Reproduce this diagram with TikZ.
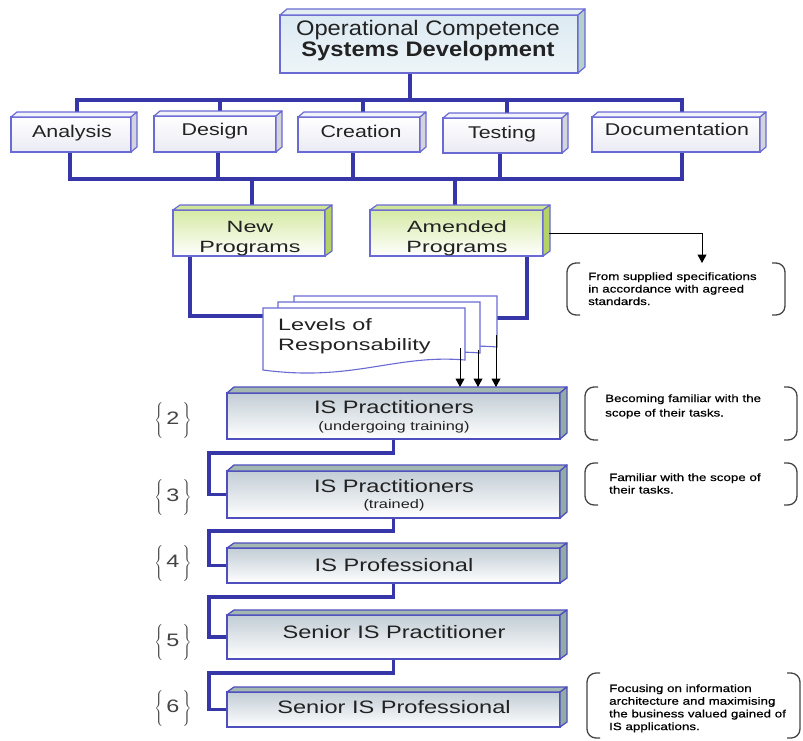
\documentclass[tikz,border=0pt]{standalone}
\usepackage{fontspec}
\setmainfont{Liberation Sans}
\newfontfamily\notefont[FakeBold=0.5]{Liberation Sans}
\usepackage{graphicx}
\usetikzlibrary{arrows.meta}
\pgfdeclarelayer{bg}
\pgfsetlayers{bg,main}
\definecolor{conncol}{HTML}{3636A8}
\definecolor{edgecol}{HTML}{6A6AD4}
\definecolor{lvledge}{HTML}{4E4EBE}
\definecolor{txtcol}{HTML}{222222}
\definecolor{topfill}{HTML}{DCEAF2}
\definecolor{topsidec}{HTML}{B6D0CE}
\definecolor{toptopc}{HTML}{E2EEF2}
\definecolor{tierbot}{HTML}{EAEAF4}
\definecolor{tiertopc}{HTML}{F2F2FA}
\definecolor{tiersidec}{HTML}{D4D4DE}
\definecolor{pgmtop}{HTML}{D6EAA4}
\definecolor{pgmside}{HTML}{B4D268}
\definecolor{lvltopc}{HTML}{C2CDD5}
\definecolor{lvlface}{HTML}{92ACA2}
\definecolor{brkcol}{HTML}{444444}
\newcommand\stx[2][1.3]{\scalebox{#1}[1]{#2}}
\newcommand\boxfaces[5]{%
  \path[#4] (#1.north west) -- ([shift={(#2,-#3)}]#1.north west) -- ([shift={(#2,-#3)}]#1.north east) -- (#1.north east) -- cycle;
  \path[#5] (#1.north east) -- ([shift={(#2,-#3)}]#1.north east) -- ([shift={(#2,-#3)}]#1.south east) -- (#1.south east) -- cycle;}
\newcommand\docshape[4]{%
  \path[docst] (#1,#2) -- (#3,#2) -- (#3,#4) .. controls (#3-70,#4-6) and (#1+90,#4+22) .. (#1,#4+10) -- cycle;}
\newcommand\brackets[1]{%
  \draw[brkline] ([xshift=13pt]#1.north west) -- (#1.north west) -- (#1.south west) -- ([xshift=13pt]#1.south west);
  \draw[brkline] ([xshift=-13pt]#1.north east) -- (#1.north east) -- (#1.south east) -- ([xshift=-13pt]#1.south east);}
\newcommand\brnum[1]{$\left\{\vcenter{\hbox{\rule{0pt}{36pt}}}\right.$\hspace{2pt}\stx[1.3]{#1}\hspace{2pt}$\left.\vcenter{\hbox{\rule{0pt}{36pt}}}\right\}$}
\begin{document}
\begin{tikzpicture}[x=1pt,y=-1pt,
  conn/.style={line width=3.6pt, draw=conncol},
  arr/.style={draw=black, line width=1pt, -{Triangle[length=8.5pt,width=9pt]}},
  boxbase/.style={rectangle, inner sep=0pt, outer sep=0pt},
  txt/.style={inner sep=0pt, text=txtcol, anchor=base},
  topbox/.style={boxbase, draw=edgecol, line width=1.2pt, top color=topfill, bottom color=white!50!topfill},
  toptop/.style={draw=edgecol, line width=1.2pt, fill=toptopc, line join=round},
  topside/.style={draw=edgecol, line width=1.2pt, fill=topsidec, line join=round},
  tbox/.style={boxbase, draw=edgecol, line width=1.2pt, top color=white, bottom color=tierbot},
  tiertop/.style={draw=edgecol, line width=1.2pt, fill=tiertopc, line join=round},
  tierside/.style={draw=edgecol, line width=1.2pt, fill=tiersidec, line join=round},
  pbox/.style={boxbase, draw=edgecol, line width=1.2pt, top color=pgmtop, bottom color=white},
  pgmtopf/.style={draw=edgecol, line width=1.2pt, fill=pgmtop!80!pgmside, line join=round},
  pgmsidef/.style={draw=edgecol, line width=1.2pt, fill=pgmside, line join=round},
  lbox/.style={boxbase, draw=lvledge, line width=1.3pt, top color=lvltopc, bottom color=white},
  lvltop/.style={draw=lvledge, line width=1.3pt, fill=lvlface!85!white, line join=round},
  lvlside/.style={draw=lvledge, line width=1.3pt, fill=lvlface, line join=round},
  toptxt/.style={txt, font=\fontsize{21}{20}\selectfont},
  tiertxt/.style={txt, font=\fontsize{17}{20}\selectfont},
  pgmtxt/.style={txt, font=\fontsize{16.3}{20}\selectfont},
  lvltxt/.style={txt, font=\fontsize{18}{17}\selectfont},
  docst/.style={draw=edgecol, line width=1.1pt, fill=white},
  levtxt/.style={txt, anchor=base west, font=\fontsize{16.5}{20}\selectfont},
  brc/.style={inner sep=0pt, text=brkcol, font=\fontsize{18}{18}\selectfont},
  brk/.style={rectangle, inner sep=0pt, outer sep=0pt},
  brkline/.style={draw=brkcol, line width=1.3pt, rounded corners=9pt},
  ntxt/.style={inner sep=0pt, text=black, anchor=base west, font=\notefont\fontsize{10.6}{12.5}\selectfont}
]
\useasboundingbox (0,0) rectangle (803,740);
\begin{pgfonlayer}{bg}
\fill[white] (0,0) rectangle (803,740);
\end{pgfonlayer}

% ---------- top box
\node[topbox, minimum width=298pt, minimum height=58pt] (top) at (429,44) {};
\boxfaces{top}{7}{6}{toptop}{topside}
\node[toptxt] (topt) at (428,35)
  {\stx[1.13]{\begin{tabular}[t]{@{}c@{}}Operational Competence\\ \bfseries Systems Development\end{tabular}}};

% ---------- tier boxes
\node[tbox, minimum width=120pt, minimum height=35pt] (ana) at (71,134.5) {};
\node[tbox, minimum width=122pt, minimum height=36pt] (des) at (215,134) {};
\node[tbox, minimum width=122pt, minimum height=35pt] (cre) at (359,134.5) {};
\node[tbox, minimum width=119pt, minimum height=35pt] (tes) at (502.5,135.5) {};
\node[tbox, minimum width=168pt, minimum height=35pt] (doc) at (676,134.5) {};
\boxfaces{ana}{6}{5}{tiertop}{tierside}
\boxfaces{des}{6}{5}{tiertop}{tierside}
\boxfaces{cre}{6}{5}{tiertop}{tierside}
\boxfaces{tes}{6}{5}{tiertop}{tierside}
\boxfaces{doc}{6}{5}{tiertop}{tierside}
\node[tiertxt] (anat) at (72,137) {\stx[1.26]{Analysis}};
\node[tiertxt] (dest) at (215,135) {\stx[1.26]{Design}};
\node[tiertxt] (cret) at (361,137) {\stx[1.26]{Creation}};
\node[tiertxt] (test) at (502,138) {\stx[1.26]{Testing}};
\node[tiertxt] (doct) at (677,135) {\stx[1.26]{Documentation}};

% ---------- program boxes
\node[pbox, minimum width=152pt, minimum height=46pt] (np) at (249,233) {};
\node[pbox, minimum width=173pt, minimum height=46pt] (am) at (456.5,233) {};
\boxfaces{np}{7}{5}{pgmtopf}{pgmsidef}
\boxfaces{am}{7}{5}{pgmtopf}{pgmsidef}
\node[pgmtxt] (npt) at (250,232) {\stx[1.43]{\begin{tabular}[t]{@{}c@{}}New\\ Programs\end{tabular}}};
\node[pgmtxt] (amt) at (457,232) {\stx[1.43]{\begin{tabular}[t]{@{}c@{}}Amended\\ Programs\end{tabular}}};

% ---------- levels of responsability (multi document)
\docshape{294}{296}{497}{347}
\docshape{278}{302}{480}{353}
\docshape{263}{308}{465}{360}
\node[levtxt] (lev) at (278,330)
  {\stx[1.42]{\begin{tabular}[t]{@{}l@{}}Levels of\\ Responsability\end{tabular}}};

% ---------- level boxes
\node[lbox, minimum width=333pt, minimum height=46pt] (l2) at (393.5,416) {};
\node[lbox, minimum width=333pt, minimum height=47pt] (l3) at (393.5,494.5) {};
\node[lbox, minimum width=333pt, minimum height=35pt] (l4) at (393.5,565.5) {};
\node[lbox, minimum width=333pt, minimum height=44pt] (l5) at (393.5,637) {};
\node[lbox, minimum width=333pt, minimum height=35pt] (l6) at (393.5,709.5) {};
\boxfaces{l2}{7}{6}{lvltop}{lvlside}
\boxfaces{l3}{7}{6}{lvltop}{lvlside}
\boxfaces{l4}{7}{5}{lvltop}{lvlside}
\boxfaces{l5}{7}{5}{lvltop}{lvlside}
\boxfaces{l6}{7}{5}{lvltop}{lvlside}
\node[lvltxt] (l2t) at (394,413)
  {\stx[1.31]{\begin{tabular}[t]{@{}c@{}}IS Practitioners\\ \fontsize{12.5}{15}\selectfont (undergoing training)\end{tabular}}};
\node[lvltxt] (l3t) at (394,492)
  {\stx[1.31]{\begin{tabular}[t]{@{}c@{}}IS Practitioners\\[-1pt] \fontsize{12.5}{15}\selectfont (trained)\end{tabular}}};
\node[lvltxt] (l4t) at (394,571) {\stx[1.31]{IS Professional}};
\node[lvltxt] (l5t) at (394,638) {\stx[1.31]{Senior IS Practitioner}};
\node[lvltxt] (l6t) at (394,713) {\stx[1.31]{Senior IS Professional}};

% ---------- braces with level numbers
\node[brc] (b2) at (173,420) {\brnum{2}};
\node[brc] (b3) at (173,497) {\brnum{3}};
\node[brc] (b4) at (173,563) {\brnum{4}};
\node[brc] (b5) at (173,642) {\brnum{5}};
\node[brc] (b6) at (173,708) {\brnum{6}};

% ---------- notes
\node[brk, minimum width=218pt, minimum height=52pt] (n1) at (676,289) {};
\brackets{n1}
\node[ntxt] (n1t) at (588,280)
  {\stx[1.26]{\begin{tabular}[t]{@{}l@{}}From supplied specifications\\ in accordance with agreed\\ standards.\end{tabular}}};
\node[brk, minimum width=212pt, minimum height=53pt] (n2) at (691,413.5) {};
\brackets{n2}
\node[ntxt, font=\notefont\fontsize{10.6}{14.5}\selectfont] (n2t) at (605,402)
  {\stx[1.26]{\begin{tabular}[t]{@{}l@{}}Becoming familiar with the\\ scope of their tasks.\end{tabular}}};
\node[brk, minimum width=212pt, minimum height=42pt] (n3) at (691,484) {};
\brackets{n3}
\node[ntxt] (n3t) at (609,481)
  {\stx[1.26]{\begin{tabular}[t]{@{}l@{}}Familiar with the scope of\\ their tasks.\end{tabular}}};
\node[brk, minimum width=213pt, minimum height=65pt] (n6) at (693.5,705.5) {};
\brackets{n6}
\node[ntxt, font=\notefont\fontsize{10.6}{12.7}\selectfont] (n6t) at (609,692)
  {\stx[1.26]{\begin{tabular}[t]{@{}l@{}}Focusing on information\\ architecture and maximising\\ the business valued gained of\\ IS applications.\end{tabular}}};

% ---------- coordinates
\coordinate (tc) at (410,100);
\coordinate (tL) at (77,100);
\coordinate (tR) at (682,100);
\coordinate (tD) at (220,100);
\coordinate (tC) at (363,100);
\coordinate (tT) at (507,100);
\coordinate (bL) at (70,179);
\coordinate (bR) at (682,179);
\coordinate (bD) at (218,179);
\coordinate (bC) at (353,179);
\coordinate (bT) at (500,179);
\coordinate (bN) at (252,179);
\coordinate (bA) at (455,179);
\coordinate (levL) at (263,316);
\coordinate (levR) at (497,318);
\coordinate (k2) at (209,453);
\coordinate (k3) at (209,531);
\coordinate (k4) at (209,597);
\coordinate (k5) at (209,673);
\coordinate (a1) at (460,348);
\coordinate (a2) at (478,350);
\coordinate (a3) at (496,335);
\coordinate (l2top) at (393,387);
\coordinate (n1a) at (702,263);

% ---------- connectors
\begin{pgfonlayer}{bg}
\draw[conn] (top.south -| tc) -- (tc);
\draw[conn] (ana.north -| tL) |- (tR) -- (doc.north -| tR);
\draw[conn] (tD) -- (des.north -| tD);
\draw[conn] (tC) -- (cre.north -| tC);
\draw[conn] (tT) -- (tes.north -| tT);
\draw[conn] (ana.south -| bL) |- (bR) -- (doc.south -| bR);
\draw[conn] (des.south -| bD) -- (bD);
\draw[conn] (cre.south -| bC) -- (bC);
\draw[conn] (tes.south -| bT) -- (bT);
\draw[conn] (bN) -- (np.north -| bN);
\draw[conn] (bA) -- (am.north -| bA);
\draw[conn] ([xshift=-59pt]np.south) |- (levL);
\draw[conn] ([xshift=70.5pt]am.south) |- (levR);
\draw[conn] (l2.south) |- (k2) |- (l3.west);
\draw[conn] (l3.south) |- (k3) |- (l4.west);
\draw[conn] (l4.south) |- (k4) |- (l5.west);
\draw[conn] (l5.south) |- (k5) |- (l6.west);
\end{pgfonlayer}

% ---------- arrows
\draw[arr] (a1) -- (a1 |- l2top);
\draw[arr] (a2) -- (a2 |- l2top);
\draw[arr] (a3) -- (a3 |- l2top);
\draw[arr] ([xshift=6pt]am.east) -| (n1a);
\end{tikzpicture}
\end{document}
